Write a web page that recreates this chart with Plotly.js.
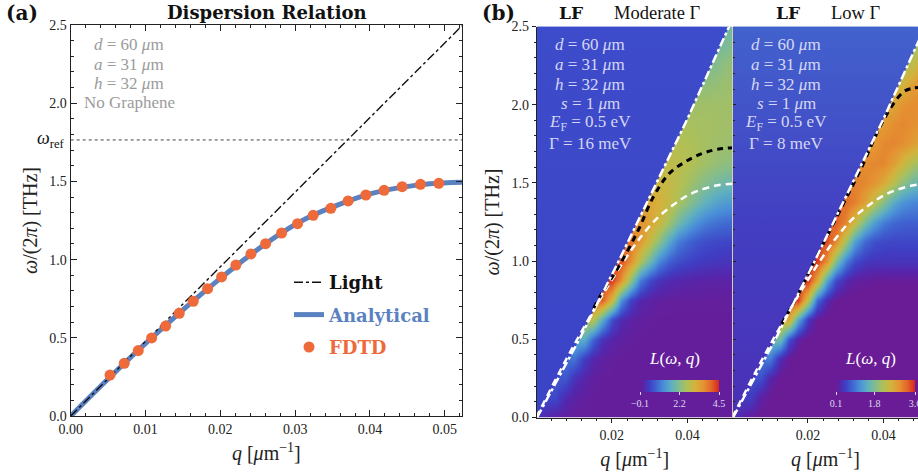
<!DOCTYPE html>
<html>
<head>
<meta charset="utf-8">
<script src="https://cdn.plot.ly/plotly-3.0.1.min.js"></script>
<style>html,body{margin:0;padding:0;background:#fff;}#chart{width:918px;height:475px;}</style>
</head>
<body>
<div id="chart"></div>
<script>
// ---------- Panel (a) data ----------
const lightA_q = [0, 0.0523];
const lightA_f = [0, 2.495];
const wRef = 1.765;
const refLine_q = [0, 0.0523];
const qAnalytical = [0, 0.004, 0.008, 0.012, 0.016, 0.02, 0.024, 0.028, 0.032, 0.036, 0.04, 0.044, 0.048, 0.0523];
const fAnalytical = [0, 0.19, 0.375, 0.55, 0.72, 0.88, 1.03, 1.165, 1.275, 1.355, 1.42, 1.46, 1.485, 1.495];
const qFDTD = [0.00525, 0.00716, 0.00903, 0.01082, 0.01269, 0.01451, 0.01638, 0.0183, 0.02017, 0.02208, 0.02409, 0.02605, 0.02819, 0.03032, 0.03241, 0.03477, 0.03708, 0.03945, 0.04189, 0.0443, 0.04675, 0.0492];
const fFDTD = [0.262, 0.337, 0.418, 0.499, 0.575, 0.657, 0.733, 0.814, 0.889, 0.965, 1.036, 1.102, 1.170, 1.230, 1.283, 1.328, 1.375, 1.413, 1.443, 1.466, 1.481, 1.488];

// ---------- Panel (b) data ----------
const lightB_q = [0.0002, 0.0114, 0.0218, 0.0398, 0.0510];
const lightB_f = [0, 0.5, 1.0, 1.9, 2.5];
const modeModerate_q = [0.0152, 0.0175, 0.0218, 0.0270, 0.0310, 0.0352, 0.0395, 0.0440, 0.0480, 0.0519];
const modeModerate_f = [0.7, 0.8, 0.964, 1.199, 1.412, 1.561, 1.636, 1.689, 1.715, 1.725];
const modeLow_q = [0.0131, 0.0171, 0.0206, 0.0250, 0.0290, 0.0321, 0.0347, 0.0374, 0.0400, 0.0427, 0.0453, 0.0475, 0.0491];
const modeLow_f = [0.6, 0.772, 0.943, 1.156, 1.348, 1.497, 1.625, 1.774, 1.902, 2.009, 2.083, 2.105, 2.11];

const qGrid = [0, 0.0025, 0.005, 0.0075, 0.01, 0.0125, 0.015, 0.0175, 0.02, 0.0225, 0.025, 0.0275, 0.03, 0.0325, 0.035, 0.0375, 0.04, 0.0425, 0.045, 0.0475, 0.05, 0.0525];
const fGrid = [0, 0.125, 0.25, 0.375, 0.5, 0.625, 0.75, 0.875, 1, 1.125, 1.25, 1.375, 1.5, 1.625, 1.75, 1.875, 2, 2.125, 2.25, 2.375, 2.5];

// L(omega,q), moderate damping (rows: fGrid, columns: qGrid)
const zModerate = [
[0.3,0.15,0.05,0,-0.05,-0.05,-0.05,-0.05,-0.05,-0.05,-0.05,-0.05,-0.05,-0.05,-0.05,-0.05,-0.05,-0.05,-0.05,-0.05,-0.05,-0.05],
[0.5,0.55,0.55,0.2,0.05,0,-0.05,-0.05,-0.05,-0.05,-0.05,-0.05,-0.05,-0.05,-0.05,-0.05,-0.05,-0.05,-0.05,-0.05,-0.05,-0.05],
[0.5,0.5,0.7,0.7,0.3,0.1,0,-0.05,-0.05,-0.05,-0.05,-0.05,-0.05,-0.05,-0.05,-0.05,-0.05,-0.05,-0.05,-0.05,-0.05,-0.05],
[0.5,0.5,0.5,1.0,1.0,0.45,0.15,0.03,-0.03,-0.05,-0.05,-0.05,-0.05,-0.05,-0.05,-0.05,-0.05,-0.05,-0.05,-0.05,-0.05,-0.05],
[0.5,0.5,0.5,0.5,1.7,1.7,0.85,0.3,0.1,0.02,-0.03,-0.05,-0.05,-0.05,-0.05,-0.05,-0.05,-0.05,-0.05,-0.05,-0.05,-0.05],
[0.5,0.5,0.5,0.5,0.5,2.8,2.8,1.7,0.6,0.2,0.05,0,-0.03,-0.05,-0.05,-0.05,-0.05,-0.05,-0.05,-0.05,-0.05,-0.05],
[0.5,0.5,0.5,0.5,0.5,0.5,4.1,4.1,3.0,1.3,0.45,0.15,0.05,0,-0.02,-0.03,-0.03,-0.03,-0.03,-0.03,-0.03,-0.03],
[0.5,0.5,0.5,0.5,0.5,0.5,0.5,4.4,4.4,3.6,2.3,1.1,0.55,0.3,0.18,0.14,0.1,0.08,0.07,0.06,0.06,0.06],
[0.5,0.5,0.5,0.5,0.5,0.5,0.5,0.5,4.2,4.2,3.6,2.7,1.9,1.2,0.8,0.6,0.5,0.42,0.38,0.35,0.33,0.32],
[0.5,0.5,0.5,0.5,0.5,0.5,0.5,0.5,0.5,3.9,3.9,3.5,2.9,2.3,1.6,1.1,0.85,0.7,0.6,0.55,0.52,0.5],
[0.52,0.52,0.52,0.52,0.52,0.52,0.52,0.52,0.52,0.52,3.6,3.6,3.3,3.0,2.5,2.0,1.6,1.3,1.1,0.98,0.92,0.88],
[0.52,0.52,0.52,0.52,0.52,0.52,0.52,0.52,0.52,0.52,0.52,3.3,3.3,3.15,2.9,2.6,2.3,2.0,1.75,1.55,1.45,1.4],
[0.55,0.55,0.55,0.55,0.55,0.55,0.55,0.55,0.55,0.55,0.55,0.55,3.0,3.0,2.9,2.75,2.55,2.35,2.2,2.05,1.95,1.9],
[0.55,0.55,0.55,0.55,0.55,0.55,0.55,0.55,0.55,0.55,0.55,0.55,0.55,2.85,2.85,2.8,2.7,2.6,2.5,2.4,2.32,2.28],
[0.57,0.57,0.57,0.57,0.57,0.57,0.57,0.57,0.57,0.57,0.57,0.57,0.57,0.57,2.7,2.7,2.65,2.6,2.55,2.5,2.48,2.45],
[0.58,0.58,0.58,0.58,0.58,0.58,0.58,0.58,0.58,0.58,0.58,0.58,0.58,0.58,0.58,2.6,2.6,2.55,2.55,2.52,2.5,2.5],
[0.6,0.6,0.6,0.6,0.6,0.6,0.6,0.6,0.6,0.6,0.6,0.6,0.6,0.6,0.6,0.6,2.5,2.5,2.5,2.5,2.5,2.5],
[0.6,0.6,0.6,0.6,0.6,0.6,0.6,0.6,0.6,0.6,0.6,0.6,0.6,0.6,0.6,0.6,0.6,2.35,2.35,2.4,2.45,2.45],
[0.62,0.62,0.62,0.62,0.62,0.62,0.62,0.62,0.62,0.62,0.62,0.62,0.62,0.62,0.62,0.62,0.62,0.62,2.2,2.2,2.35,2.4],
[0.62,0.62,0.62,0.62,0.62,0.62,0.62,0.62,0.62,0.62,0.62,0.62,0.62,0.62,0.62,0.62,0.62,0.62,0.62,2.1,2.1,2.25],
[0.65,0.65,0.65,0.65,0.65,0.65,0.65,0.65,0.65,0.65,0.65,0.65,0.65,0.65,0.65,0.65,0.65,0.65,0.65,0.65,2.0,2.0]
];

// L(omega,q), low damping
const zLow = [
[0.4,0.25,0.15,0.08,0.05,0.05,0.05,0.05,0.05,0.05,0.05,0.05,0.05,0.05,0.05,0.05,0.05,0.05,0.05,0.05,0.05,0.05],
[0.4,0.5,0.5,0.2,0.1,0.05,0.05,0.05,0.05,0.05,0.05,0.05,0.05,0.05,0.05,0.05,0.05,0.05,0.05,0.05,0.05,0.05],
[0.4,0.4,0.65,0.65,0.25,0.1,0.05,0.05,0.05,0.05,0.05,0.05,0.05,0.05,0.05,0.05,0.05,0.05,0.05,0.05,0.05,0.05],
[0.4,0.4,0.4,1.0,1.0,0.35,0.12,0.05,0.05,0.05,0.05,0.05,0.05,0.05,0.05,0.05,0.05,0.05,0.05,0.05,0.05,0.05],
[0.4,0.4,0.4,0.4,1.7,1.7,0.65,0.2,0.08,0.05,0.05,0.05,0.05,0.05,0.05,0.05,0.05,0.05,0.05,0.05,0.05,0.05],
[0.4,0.4,0.4,0.4,0.4,2.7,2.7,1.4,0.45,0.12,0.05,0.05,0.05,0.05,0.05,0.05,0.05,0.05,0.05,0.05,0.05,0.05],
[0.4,0.4,0.4,0.4,0.4,0.4,3.5,3.5,2.3,0.85,0.3,0.1,0.05,0.05,0.05,0.05,0.05,0.05,0.05,0.05,0.05,0.05],
[0.4,0.4,0.4,0.4,0.4,0.4,0.4,3.55,3.55,2.7,1.35,0.6,0.3,0.18,0.15,0.13,0.12,0.12,0.12,0.12,0.12,0.12],
[0.42,0.42,0.42,0.42,0.42,0.42,0.42,0.42,3.5,3.5,2.9,1.8,1.0,0.6,0.46,0.42,0.42,0.42,0.42,0.42,0.42,0.42],
[0.45,0.45,0.45,0.45,0.45,0.45,0.45,0.45,0.45,3.4,3.4,3.0,2.1,1.3,0.85,0.66,0.6,0.58,0.58,0.58,0.58,0.58],
[0.48,0.48,0.48,0.48,0.48,0.48,0.48,0.48,0.48,0.48,3.3,3.3,3.0,2.4,1.75,1.3,1.0,0.85,0.8,0.78,0.78,0.78],
[0.5,0.5,0.5,0.5,0.5,0.5,0.5,0.5,0.5,0.5,0.5,3.2,3.2,3.05,2.75,2.3,1.85,1.45,1.2,1.1,1.05,1.05],
[0.52,0.52,0.52,0.52,0.52,0.52,0.52,0.52,0.52,0.52,0.52,0.52,3.05,3.05,3.0,2.9,2.65,2.3,1.95,1.7,1.55,1.5],
[0.55,0.55,0.55,0.55,0.55,0.55,0.55,0.55,0.55,0.55,0.55,0.55,0.55,2.95,2.95,3.0,3.0,2.8,2.5,2.2,2.0,1.9],
[0.58,0.58,0.58,0.58,0.58,0.58,0.58,0.58,0.58,0.58,0.58,0.58,0.58,0.58,2.85,2.85,3.0,3.0,2.95,2.8,2.65,2.55],
[0.6,0.6,0.6,0.6,0.6,0.6,0.6,0.6,0.6,0.6,0.6,0.6,0.6,0.6,0.6,2.8,2.8,2.95,3.0,2.95,2.9,2.85],
[0.62,0.62,0.62,0.62,0.62,0.62,0.62,0.62,0.62,0.62,0.62,0.62,0.62,0.62,0.62,0.62,2.7,2.7,2.9,2.95,2.95,2.95],
[0.65,0.65,0.65,0.65,0.65,0.65,0.65,0.65,0.65,0.65,0.65,0.65,0.65,0.65,0.65,0.65,0.65,2.5,2.5,2.8,2.9,2.9],
[0.68,0.68,0.68,0.68,0.68,0.68,0.68,0.68,0.68,0.68,0.68,0.68,0.68,0.68,0.68,0.68,0.68,0.68,2.3,2.3,2.7,2.8],
[0.7,0.7,0.7,0.7,0.7,0.7,0.7,0.7,0.7,0.7,0.7,0.7,0.7,0.7,0.7,0.7,0.7,0.7,0.7,2.1,2.1,2.5],
[0.72,0.72,0.72,0.72,0.72,0.72,0.72,0.72,0.72,0.72,0.72,0.72,0.72,0.72,0.72,0.72,0.72,0.72,0.72,0.72,1.8,1.8]
];

const cbModerateTicks = [-0.1, 2.2, 4.5];
const cbModerateLabels = ['\u22120.1', '2.2', '4.5'];
const cbLowTicks = [0.1, 1.8, 3.6];
const cbLowLabels = ['0.1', '1.8', '3.6'];

const paramsA = ['<i>d</i> = 60 <i>\u03bc</i>m', '<i>a</i> = 31 <i>\u03bc</i>m', '<i>h</i> = 32 <i>\u03bc</i>m', 'No Graphene'];
const paramsModerate = ['<i>d</i> = 60 <i>\u03bc</i>m', '<i>a</i> = 31 <i>\u03bc</i>m', '<i>h</i> = 32 <i>\u03bc</i>m', '<i>s</i> = 1 <i>\u03bc</i>m', '<i>E</i><sub>F</sub> = 0.5 eV', '\u0393 = 16 meV'];
const paramsLow = ['<i>d</i> = 60 <i>\u03bc</i>m', '<i>a</i> = 31 <i>\u03bc</i>m', '<i>h</i> = 32 <i>\u03bc</i>m', '<i>s</i> = 1 <i>\u03bc</i>m', '<i>E</i><sub>F</sub> = 0.5 eV', '\u0393 = 8 meV'];

// ---------- styling ----------
const W = 918, H = 475;
const FONT = 'Liberation Serif, DejaVu Serif, serif';
const BFONT = 'DejaVu Serif, Liberation Serif, serif';
const BLUE = '#5b82c0', ORANGE = '#ee6a3b';
const SCALE = [[0,'#6a1c96'],[0.05,'#5526ac'],[0.12,'#3f3fc4'],[0.2,'#3f62d0'],[0.3,'#4a8fd8'],[0.4,'#5fb0c0'],[0.5,'#84bd8c'],[0.6,'#b0c055'],[0.7,'#d4b23c'],[0.8,'#e49432'],[0.9,'#e2672a'],[1,'#d8261e']];
const px = v => v / W, py = v => 1 - v / H;

const traces = [
  {x: qAnalytical, y: fAnalytical, type: 'scatter', mode: 'lines', line: {color: BLUE, width: 5, shape: 'spline'},
   name: '<b><span style="color:' + BLUE + '">Analytical</span></b>', legendgroup: 'g2', legendrank: 2, xaxis: 'x', yaxis: 'y'},
  {x: lightA_q, y: lightA_f, type: 'scatter', mode: 'lines', line: {color: '#111', width: 1.4, dash: 'dashdot'},
   name: '<b>Light</b>', legendgroup: 'g1', legendrank: 1, xaxis: 'x', yaxis: 'y'},
  {x: refLine_q, y: [wRef, wRef], type: 'scatter', mode: 'lines', line: {color: '#444', width: 1, dash: 'dot'},
   showlegend: false, xaxis: 'x', yaxis: 'y', hoverinfo: 'skip'},
  {x: qFDTD, y: fFDTD, type: 'scatter', mode: 'markers', marker: {color: ORANGE, size: 11},
   name: '<b><span style="color:' + ORANGE + '">FDTD</span></b>', legendgroup: 'g3', legendrank: 3, xaxis: 'x', yaxis: 'y'},

  {type: 'heatmap', x: qGrid, y: fGrid, z: zModerate, zsmooth: 'best', coloraxis: 'coloraxis', xaxis: 'x2', yaxis: 'y2', showlegend: false, hoverinfo: 'skip'},
  {type: 'heatmap', x: qGrid, y: fGrid, z: zLow, zsmooth: 'best', coloraxis: 'coloraxis2', xaxis: 'x3', yaxis: 'y3', showlegend: false, hoverinfo: 'skip'}
];

// radiative region (left of the light line): flat background level of L
const maskQ = [0].concat(lightB_q, [0]);
const maskF = [0].concat(lightB_f, [lightB_f[lightB_f.length - 1]]);
const maskScales = [
  [[0, '#3b43c6'], [1, '#3d4cca']],
  [[0, '#4a30b6'], [0.5, '#433fc2'], [1, '#4262cd']]
];

[['x2','y2', modeModerate_q, modeModerate_f, maskScales[0]], ['x3','y3', modeLow_q, modeLow_f, maskScales[1]]].forEach(([xa, ya, mq, mf, ms]) => {
  traces.push({x: maskQ, y: maskF, type: 'scatter', mode: 'none', fill: 'toself',
               fillgradient: {type: 'vertical', colorscale: ms, start: 0, stop: 2.5},
               xaxis: xa, yaxis: ya, showlegend: false, hoverinfo: 'skip'});
  traces.push({x: qAnalytical, y: fAnalytical, type: 'scatter', mode: 'lines', line: {color: 'white', width: 2.5, dash: '7px,5px', shape: 'spline'}, xaxis: xa, yaxis: ya, showlegend: false, hoverinfo: 'skip'});
  traces.push({x: mq, y: mf, type: 'scatter', mode: 'lines', line: {color: 'black', width: 3, dash: '6px,5px', shape: 'spline'}, xaxis: xa, yaxis: ya, showlegend: false, hoverinfo: 'skip'});
  traces.push({x: lightB_q, y: lightB_f, type: 'scatter', mode: 'lines', line: {color: 'white', width: 2.5, dash: 'dashdot'}, xaxis: xa, yaxis: ya, showlegend: false, hoverinfo: 'skip'});
});

const tickFont = {size: 14, family: FONT, color: '#222'};
const titleFont = {size: 20, family: FONT, color: '#222'};
const yTitle = '<i>\u03c9</i>/(2<i>\u03c0</i>) [THz]';
const xTitle = '<i>q</i> [<i>\u03bc</i>m<sup>\u22121</sup>]';
const yDomB = [py(417.5), py(26.5)];

function cbar(xc, ticks, labels) {
  return {orientation: 'h', x: px(xc), xanchor: 'center', y: py(379.5), yanchor: 'top', len: 79 / W, lenmode: 'fraction',
          thickness: 12, thicknessmode: 'pixels', outlinewidth: 0, xpad: 0, ypad: 0, bgcolor: 'rgba(0,0,0,0)',
          tickvals: ticks, ticktext: labels, ticks: 'outside', ticklen: 3, tickcolor: '#d8d8ee', ticklabeloverflow: 'allow',
          tickfont: {size: 10, family: FONT, color: '#dcdcf0'}};
}

const annotations = [];
function ann(text, x, y, size, opts, family) {
  annotations.push(Object.assign({text: text, x: px(x), y: py(y), xref: 'paper', yref: 'paper', showarrow: false,
    xanchor: 'center', yanchor: 'middle', font: {size: size, family: family || FONT, color: '#111'}}, opts || {}));
}
ann('<b>(a)</b>', 4, 13, 20, {xanchor: 'left'}, BFONT);
ann('<b>Dispersion Relation</b>', 165, 12, 18, {xanchor: 'left'}, BFONT);
paramsA.forEach((t, i) => ann(t, 129, 45 + 19.2 * i, 17, {font: {size: 17, family: FONT, color: '#9b9b9b'}}));
annotations.push({text: '<i>\u03c9</i><sub>ref</sub>', x: px(67), y: wRef, xref: 'paper', yref: 'y', showarrow: false, xanchor: 'right', yanchor: 'middle', font: {size: 18, family: FONT, color: '#111'}});
ann('<b>(b)</b>', 480, 13, 20, {xanchor: 'left'}, BFONT);
ann('<b>LF</b>', 585, 13, 17, {xanchor: 'right'}, BFONT);
ann('Moderate \u0393', 612, 13, 18.5, {xanchor: 'left'});
ann('<b>LF</b>', 802, 13, 17, {xanchor: 'right'}, BFONT);
ann('Low \u0393', 829, 13, 18.5, {xanchor: 'left'});
const paramColor = 'rgba(228,228,250,0.92)';
paramsModerate.forEach((t, i) => ann(t, 590, 45 + 19.6 * i, 17, {font: {size: 17, family: FONT, color: paramColor}}));
paramsLow.forEach((t, i) => ann(t, 786, 45 + 19.6 * i, 17, {font: {size: 17, family: FONT, color: paramColor}}));
ann('<i>L</i>(<i>\u03c9</i>, <i>q</i>)', 674, 358, 17, {font: {size: 17, family: FONT, color: 'white'}});
ann('<i>L</i>(<i>\u03c9</i>, <i>q</i>)', 870, 358, 17, {font: {size: 17, family: FONT, color: 'white'}});

const layout = {
  width: W, height: H, margin: {l: 0, r: 0, t: 0, b: 0}, paper_bgcolor: 'white', plot_bgcolor: 'white',
  font: {family: FONT, color: '#222'},
  showlegend: true,
  legend: {x: px(289), xanchor: 'left', y: py(264), yanchor: 'top', bgcolor: 'rgba(0,0,0,0)',
           font: {size: 18, family: BFONT, color: '#111'}, tracegroupgap: 6, itemwidth: 30},
  xaxis: {domain: [px(70.7), px(462)], range: [0, 0.0523], anchor: 'y', tick0: 0, dtick: 0.01, tickformat: '.2f',
          ticks: 'inside', ticklen: 6, tickcolor: '#222', minor: {dtick: 0.002, tick0: 0, ticks: 'inside', ticklen: 3, tickcolor: '#222'},
          mirror: 'allticks', showline: true, linecolor: '#222', linewidth: 1.2, showgrid: false, zeroline: false,
          tickfont: tickFont, title: {text: xTitle, font: titleFont, standoff: 10}},
  yaxis: {domain: [py(416), py(25)], range: [0, 2.5], anchor: 'x', tick0: 0, dtick: 0.5, tickformat: '.1f',
          ticks: 'inside', ticklen: 6, tickcolor: '#222', minor: {dtick: 0.1, tick0: 0, ticks: 'inside', ticklen: 3, tickcolor: '#222'},
          mirror: 'allticks', showline: true, linecolor: '#222', linewidth: 1.2, showgrid: false, zeroline: false,
          tickfont: tickFont, title: {text: yTitle, font: titleFont, standoff: 6}},
  xaxis2: {domain: [px(537), px(732.5)], range: [0.0002, 0.0519], anchor: 'y2', tickvals: [0.02, 0.04], ticktext: ['0.02', '0.04'],
           ticks: 'outside', ticklen: 4, tickcolor: '#222', minor: {dtick: 0.004, tick0: 0, ticks: 'outside', ticklen: 2, tickcolor: '#222'},
           showline: true, linecolor: '#222', linewidth: 1.2, showgrid: false, zeroline: false,
           tickfont: tickFont, title: {text: xTitle, font: titleFont, standoff: 10}},
  yaxis2: {domain: yDomB, range: [0, 2.5], anchor: 'x2', tick0: 0, dtick: 0.5, tickformat: '.1f',
           ticks: 'outside', ticklen: 4, tickcolor: '#222', minor: {dtick: 0.1, tick0: 0, ticks: 'outside', ticklen: 2, tickcolor: '#222'},
           showline: true, linecolor: '#222', linewidth: 1.2, showgrid: false, zeroline: false,
           tickfont: tickFont, title: {text: yTitle, font: titleFont, standoff: 6}},
  xaxis3: {domain: [px(733), 1], range: [0.0002, 0.0491], anchor: 'y3', tickvals: [0.02, 0.04], ticktext: ['0.02', '0.04'],
           ticks: 'outside', ticklen: 4, tickcolor: '#222', minor: {dtick: 0.004, tick0: 0, ticks: 'outside', ticklen: 2, tickcolor: '#222'},
           showline: true, linecolor: '#222', linewidth: 1.2, showgrid: false, zeroline: false,
           tickfont: tickFont, title: {text: xTitle, font: titleFont, standoff: 10}},
  yaxis3: {domain: yDomB, range: [0, 2.5], anchor: 'x3', tick0: 0, dtick: 0.5, showticklabels: false,
           ticks: 'inside', ticklen: 3, tickcolor: '#222', minor: {dtick: 0.1, tick0: 0, ticks: 'inside', ticklen: 2, tickcolor: '#222'},
           showline: true, linecolor: '#d6cfa8', linewidth: 1.2, showgrid: false, zeroline: false},
  coloraxis: {cmin: -0.1, cmax: 4.5, colorscale: SCALE, colorbar: cbar(679.5, cbModerateTicks, cbModerateLabels)},
  coloraxis2: {cmin: 0.1, cmax: 3.6, colorscale: SCALE, colorbar: cbar(875.5, cbLowTicks, cbLowLabels)},
  annotations: annotations
};

Plotly.newPlot('chart', traces, layout, {displayModeBar: false, staticPlot: true});
</script>
</body>
</html>
